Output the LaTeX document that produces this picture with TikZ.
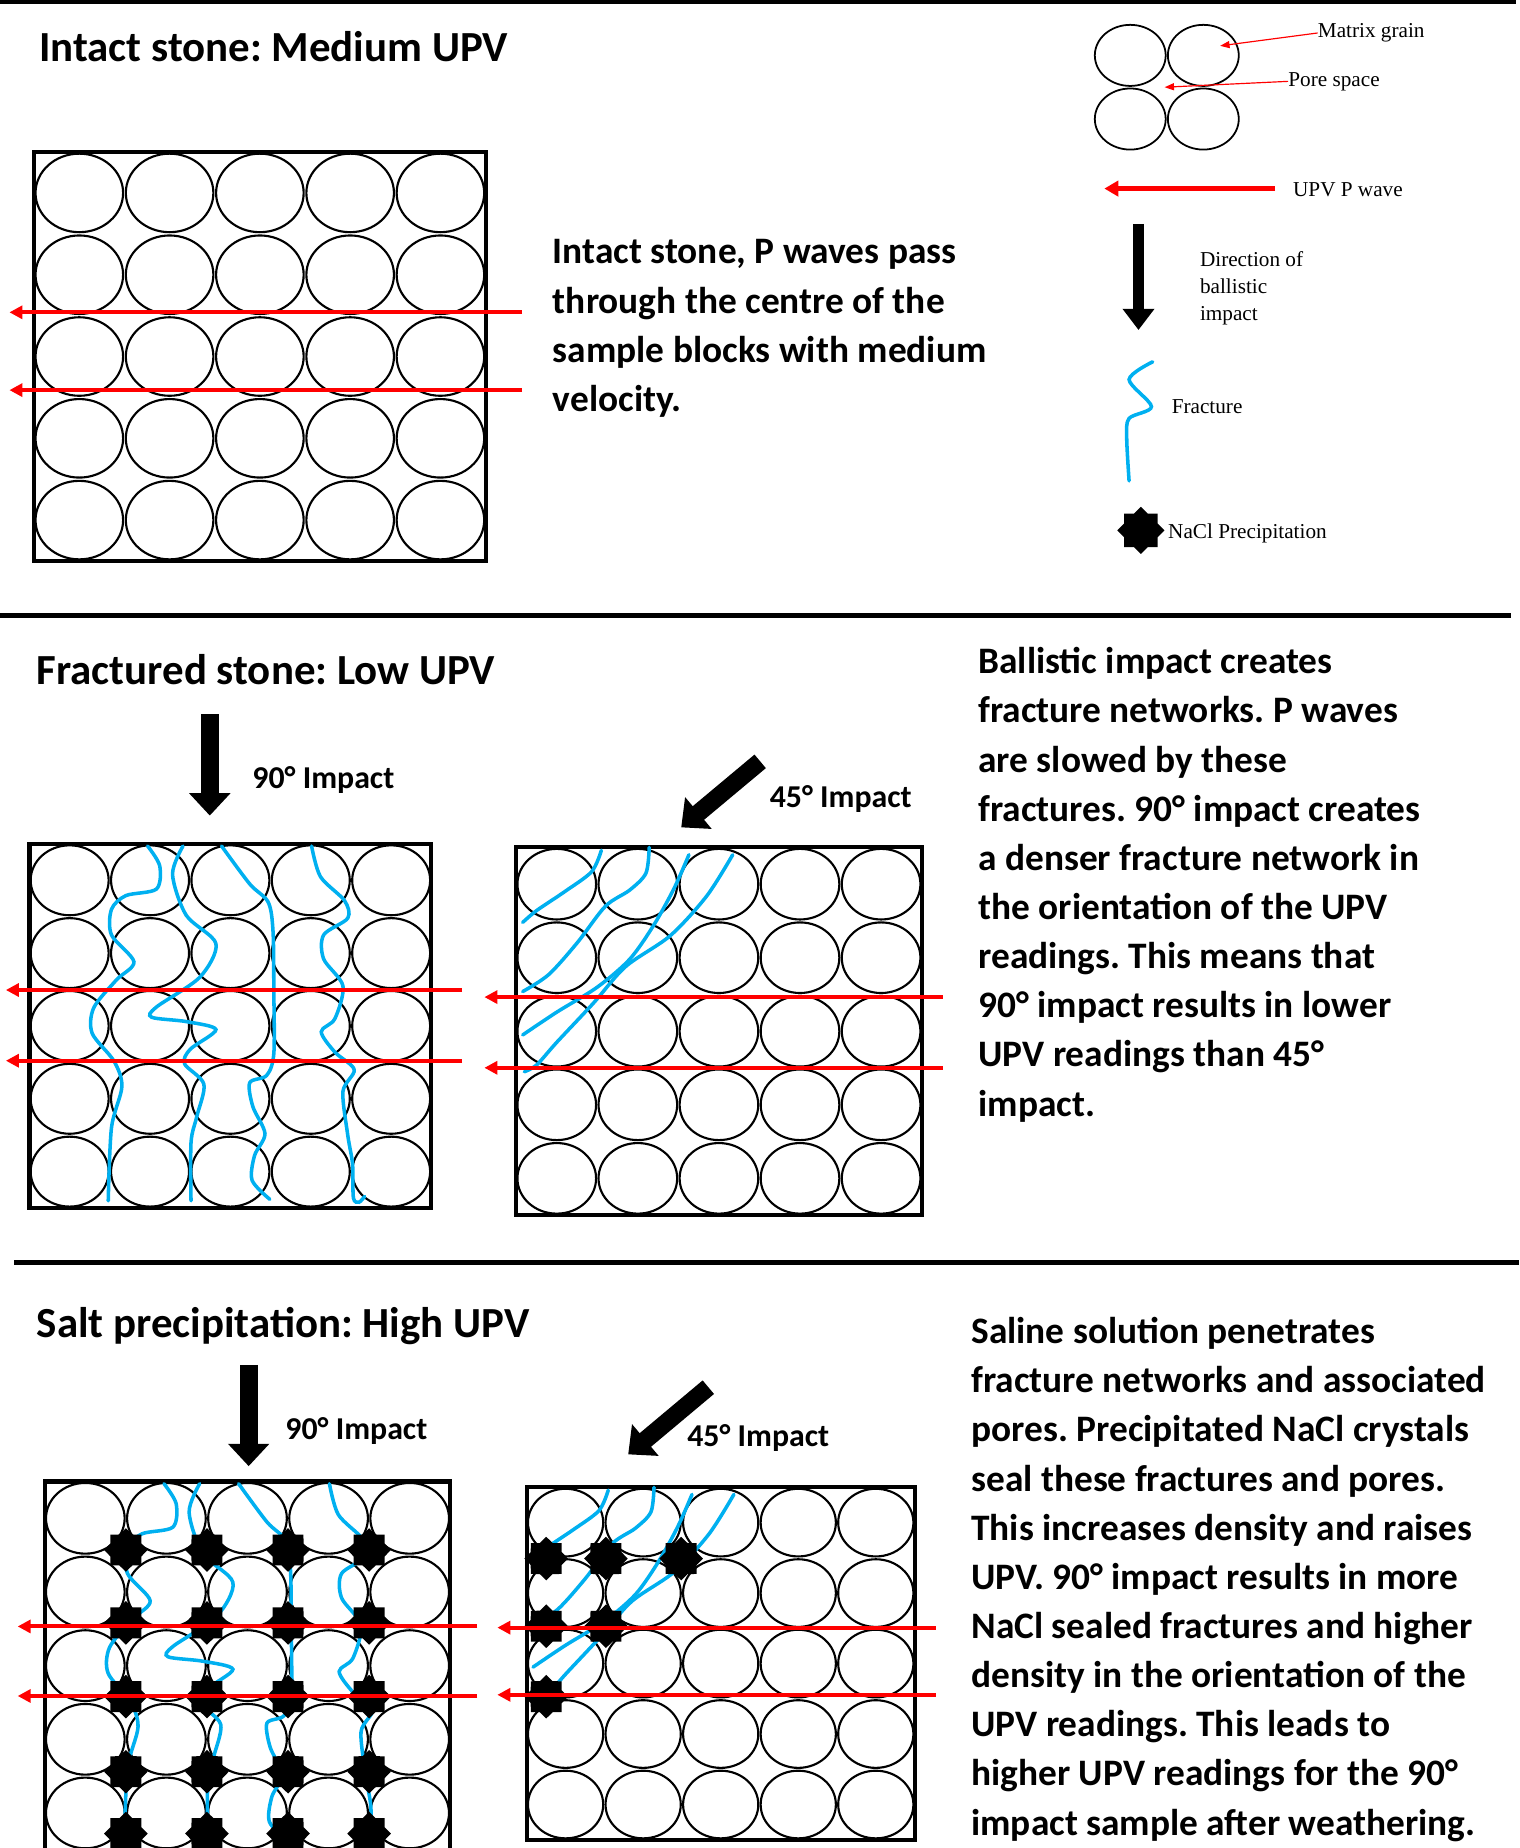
\documentclass[tikz,border=0pt]{standalone}
\usepackage{fontspec}
\setmainfont{Carlito}
\newfontfamily\legendfont{Liberation Serif}
\usetikzlibrary{arrows.meta,shapes.geometric}
\frenchspacing
\definecolor{fracblue}{RGB}{0,176,240}
\definecolor{wavered}{RGB}{255,0,0}
\tikzset{sample/.style={draw,line width=3.5pt}}
\tikzset{grain/.style={draw,line width=1.8pt}}
\tikzset{pwave/.style={wavered,line width=3.4pt,-{Triangle[length=11pt,width=11pt]}}}
\tikzset{impact/.style={line width=15pt,-{Triangle[length=19pt,width=34pt]}}}
\tikzset{fracture/.style={fracblue,line width=3pt,line cap=round}}
\tikzset{salt/.style={star,star points=8,star point ratio=1.3,minimum size=37pt,inner sep=0pt,fill=black}}
% multi-line nodes sit on the baseline of their last line
\tikzset{heading/.style={anchor=base west,inner sep=0pt,font=\bfseries\fontsize{36.4}{42}\selectfont}}
\tikzset{blurb/.style={anchor=base west,inner sep=0pt,align=left,font=\bfseries\fontsize{31.7}{41.7}\selectfont}}
\tikzset{angle label/.style={anchor=base west,inner sep=0pt,font=\bfseries\fontsize{27}{32}\selectfont}}
\tikzset{legendtext/.style={anchor=base west,inner sep=0pt,align=left,font=\legendfont\fontsize{18}{23}\selectfont}}
\tikzset{pointer/.style={wavered,line width=1pt,-{Triangle[length=8pt,width=6pt]}}}

% 5x5 grains in a box, in cell units
\newcommand{\grainblock}{%
  \draw[sample] (0,0) rectangle (5,5);
  \foreach \cx in {0,...,4}
    \foreach \ry in {0,...,4}
      \draw[grain] (\cx+0.5,\ry+0.5) ellipse [x radius=0.485,y radius=0.48];
}
% fractures after the 90 degree shot
\newcommand{\straightnet}{%
  \draw[fracture] plot[smooth] coordinates {(1.47,0.03) (1.62,0.30) (1.58,0.62) (1.20,0.71) (1.02,0.90) (1.02,1.25) (1.30,1.62) (1.08,1.87) (0.80,2.25) (0.78,2.60) (1.05,2.98) (1.15,3.33) (1.02,3.90) (0.98,4.90)};
  \draw[fracture] plot[smooth] coordinates {(1.91,0.03) (1.78,0.42) (1.95,0.98) (2.32,1.37) (2.12,1.83) (1.58,2.24) (1.52,2.38) (1.95,2.44) (2.32,2.55) (2.00,2.82) (1.93,3.02) (2.17,3.30) (2.08,3.75) (2.01,4.10) (2.01,4.90)};
  \draw[fracture] plot[smooth] coordinates {(2.39,0.03) (2.74,0.55) (2.97,0.80) (3.03,1.20) (3.04,2.00) (3.04,2.88) (2.95,3.18) (2.74,3.28) (2.78,3.61) (2.93,3.98) (2.80,4.28) (2.77,4.62) (2.99,4.88)};
  \draw[fracture] plot[smooth] coordinates {(3.51,0.03) (3.62,0.45) (3.92,0.78) (3.96,1.02) (3.66,1.25) (3.66,1.58) (3.90,1.95) (3.80,2.40) (3.63,2.58) (3.80,2.86) (4.04,3.10) (3.90,3.40) (3.96,4.00) (4.02,4.40) (4.03,4.86) (4.10,4.92) (4.17,4.84)};
}
% fractures after the 45 degree shot
\newcommand{\slantnet}{%
  \draw[fracture] plot[smooth] coordinates {(1.05,0.04) (0.93,0.33) (0.60,0.60) (0.25,0.86) (0.08,1.02)};
  \draw[fracture] plot[smooth] coordinates {(1.64,0.00) (1.60,0.35) (1.40,0.58) (1.10,0.80) (0.75,1.30) (0.40,1.73) (0.08,1.96)};
  \draw[fracture] plot[smooth] coordinates {(2.13,0.10) (1.95,0.55) (1.70,1.05) (1.40,1.52) (1.00,1.90) (0.50,2.24) (0.08,2.55)};
  \draw[fracture] plot[smooth] coordinates {(2.67,0.10) (2.35,0.66) (1.90,1.20) (1.35,1.62) (0.95,2.12) (0.50,2.65) (0.25,2.96) (0.10,3.05)};
}
% two P waves crossing a block: prefix, right x, left x, two heights
\newcommand{\pwavepair}[5]{%
  \foreach \h [count=\k] in {#4,#5} {
    \coordinate (#1in\k) at (#2,\h);
    \coordinate (#1out\k) at (#3,\h);
    \draw[pwave] (#1in\k) -- (#1out\k);
  }
}

\begin{document}
\begin{tikzpicture}[x=1pt,y=-1pt]
\useasboundingbox (0,0) rectangle (1289,1568);

% ---- intact stone
\draw[line width=3pt] (0,1.5) -- (1286,1.5);
\node[heading] (intact) at (33,52) {Intact stone: Medium UPV};
\begin{scope}[shift={(29,129)},x=76.6pt,y=-69.4pt]
  \grainblock
\end{scope}
\pwavepair{b1}{443}{8}{265}{331}
\node[blurb] (intactnote) at (469,349) {Intact stone, P waves pass\\through the centre of the\\sample blocks with medium\\velocity.};

% legend
\begin{scope}[shift={(928,20)},x=62pt,y=-54pt]
  \foreach \cx in {0,1}
    \foreach \ry in {0,1}
      \draw[grain,line width=1.5pt] (\cx+0.5,\ry+0.5) ellipse [x radius=0.485,y radius=0.48];
  \coordinate (grainpt) at (1.73,0.35);
  \coordinate (porept) at (0.97,1.0);
\end{scope}
\node[legendtext] (matrixlbl) at (1118,32) {Matrix grain};
\node[legendtext] (porelbl) at (1093,73) {Pore space};
\draw[pointer] (matrixlbl.west) -- (grainpt);
\draw[pointer] (porelbl.west) -- (porept);
\coordinate (keywavein) at (1082,160);
\coordinate (keywaveout) at (937,160);
\draw[pwave,line width=4pt,-{Triangle[length=12pt,width=13pt]}] (keywavein) -- (keywaveout);
\node[legendtext] (wavelbl) at (1097,167) {UPV P wave};
\coordinate (keyhit) at (966,190);
\coordinate (keyhitend) at (966,280);
\draw[impact,line width=10pt,-{Triangle[length=18pt,width=26pt]}] (keyhit) -- (keyhitend);
\node[legendtext] (hitlbl) at (1018,272) {Direction of\\ballistic\\impact};
\draw[fracture] plot[smooth,tension=0.5] coordinates {(978,307) (958,322) (977,345) (958,355) (956,372) (958,408)};
\node[legendtext] (fraclbl) at (994,351) {Fracture};
\node[salt,minimum size=40pt] (keysalt) at (968,450) {};
\node[legendtext] (saltlbl) at (991,457) {NaCl Precipitation};

% ---- fractured stone
\draw[line width=4pt] (0,522) -- (1282,522);
\node[heading] (fractured) at (31,581) {Fractured stone: Low UPV};
\coordinate (hit2a) at (178,606);
\coordinate (hit2aend) at (178,692);
\draw[impact] (hit2a) -- (hit2aend);
\node[angle label] (lbl2a) at (214,669) {90° Impact};
\begin{scope}[shift={(25,716)},x=68.2pt,y=-61.8pt]
  \grainblock
  \straightnet
\end{scope}
\pwavepair{b2a}{392}{5}{840}{900}
\coordinate (hit2b) at (645,646);
\coordinate (hit2bend) at (578,702);
\draw[impact] (hit2b) -- (hit2bend);
\node[angle label] (lbl2b) at (653,685) {45° Impact};
\begin{scope}[shift={(438,719)},x=68.8pt,y=-62.4pt]
  \grainblock
  \slantnet
\end{scope}
\pwavepair{b2b}{800}{411}{846}{906}
\node[blurb] (fracnote) at (830,947) {Ballistic impact creates\\fracture networks. P waves\\are slowed by these\\fractures. 90° impact creates\\a denser fracture network in\\the orientation of the UPV\\readings. This means that\\90° impact results in lower\\UPV readings than 45°\\impact.};

% ---- salt precipitation
\draw[line width=4pt] (12,1071) -- (1289,1071);
\node[heading] (salted) at (31,1135) {Salt precipitation: High UPV};
\coordinate (hit3a) at (211,1158);
\coordinate (hit3aend) at (211,1244);
\draw[impact] (hit3a) -- (hit3aend);
\node[angle label] (lbl3a) at (242,1221) {90° Impact};
\begin{scope}[shift={(38,1257)},x=68.8pt,y=-62.5pt]
  \grainblock
  \straightnet
  \foreach \cx in {1,...,4}
    \foreach \ry [count=\k] in {0.93,1.92,2.92,3.94,4.78}
      \node[salt] (salta\cx\k) at (\cx,\ry) {};
\end{scope}
\pwavepair{b3a}{405}{15}{1380}{1439}
\coordinate (hit3b) at (601,1177);
\coordinate (hit3bend) at (533,1234);
\draw[impact] (hit3b) -- (hit3bend);
\node[angle label] (lbl3b) at (583,1227) {45° Impact};
\begin{scope}[shift={(447,1262)},x=65.8pt,y=-59.8pt]
  \grainblock
  \slantnet
  \foreach \p [count=\k] in {(0.25,1.01),(1.02,1.01),(1.99,1.01),(0.25,1.97),(1.02,1.97),(0.25,2.97)}
    \node[salt] (saltb\k) at \p {};
\end{scope}
\pwavepair{b3b}{794}{422}{1381}{1438}
\node[blurb] (saltnote) at (824,1557) {Saline solution penetrates\\fracture networks and associated\\pores. Precipitated NaCl crystals\\seal these fractures and pores.\\This increases density and raises\\UPV. 90° impact results in more\\NaCl sealed fractures and higher\\density in the orientation of the\\UPV readings. This leads to\\higher UPV readings for the 90°\\impact sample after weathering.};
\end{tikzpicture}
\end{document}
